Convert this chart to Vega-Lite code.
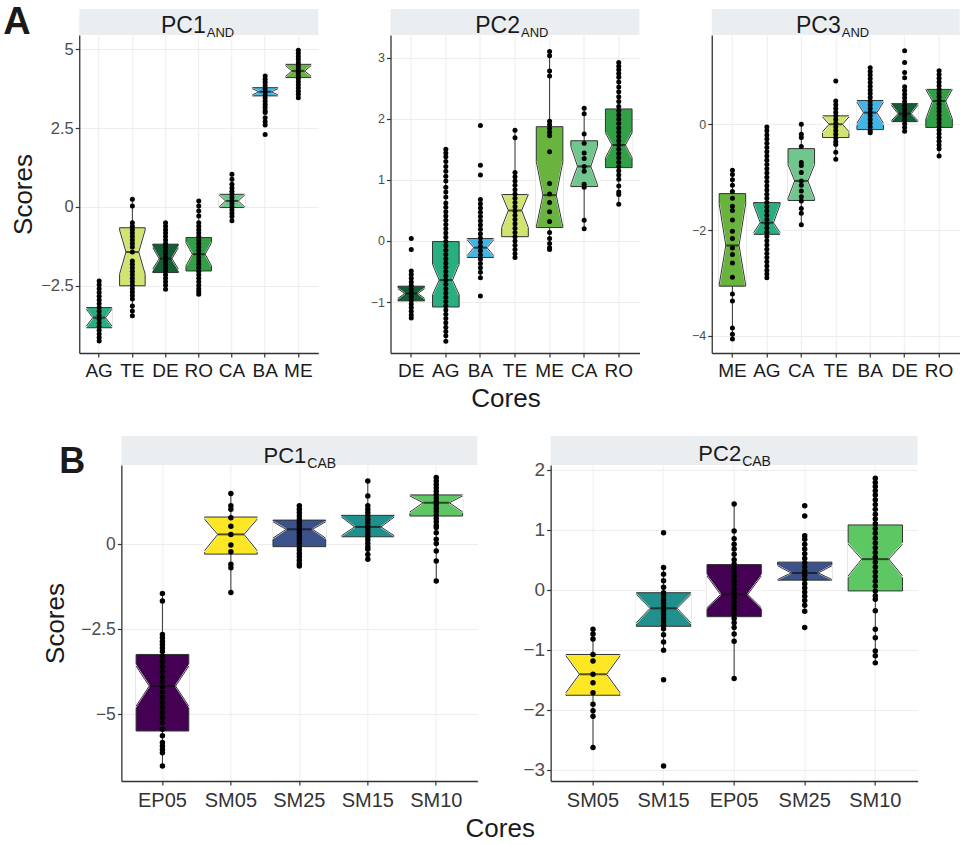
{
"$schema":"https://vega.github.io/schema/vega-lite/v6.json",
"padding":{"left":3,"top":4,"right":0,"bottom":0},
"background":"white",
"config":{"font":"Liberation Sans","view":{"stroke":null},
"axis":{"domainColor":"#333","domainWidth":1.3,"tickColor":"#333","tickSize":4,"tickWidth":1.2,"gridColor":"#ededed","gridWidth":1,"labelFont":"Liberation Sans","titleFont":"Liberation Sans","titleFontWeight":"normal","titleColor":"#1a1a1a","labelColor":"#4d4d4d"},
"axisX":{"labelAngle":0},"title":{"font":"Liberation Sans"}},
"datasets":{
"notch":[{"k":"nhi","o":1,"l":"L","r":"R"},{"k":"med","o":2,"l":"nL","r":"nR"},{"k":"nlo","o":3,"l":"L","r":"R"}],
"s1":[
{"c":"AG","q1":-3.83,"nlo":-3.78,"med":-3.51,"nhi":-3.24,"q3":-3.19,"wlo":-4.25,"whi":-2.35},
{"c":"TE","q1":-2.50,"nlo":-2.13,"med":-1.43,"nhi":-0.73,"q3":-0.66,"wlo":-3.45,"whi":0.24},
{"c":"DE","q1":-2.08,"nlo":-1.97,"med":-1.64,"nhi":-1.29,"q3":-1.18,"wlo":-2.61,"whi":-0.50},
{"c":"RO","q1":-2.03,"nlo":-1.87,"med":-1.50,"nhi":-1.13,"q3":-0.97,"wlo":-2.77,"whi":0.19},
{"c":"CA","q1":-0.02,"nlo":0.0,"med":0.19,"nhi":0.38,"q3":0.40,"wlo":-0.44,"whi":1.04},
{"c":"BA","q1":3.52,"nlo":3.55,"med":3.65,"nhi":3.75,"q3":3.78,"wlo":2.99,"whi":4.15},
{"c":"ME","q1":4.10,"nlo":4.14,"med":4.31,"nhi":4.48,"q3":4.52,"wlo":3.57,"whi":4.97}],
"s2":[
{"c":"DE","q1":-0.98,"nlo":-0.94,"med":-0.86,"nhi":-0.78,"q3":-0.74,"wlo":-1.26,"whi":-0.49},
{"c":"AG","q1":-1.08,"nlo":-0.88,"med":-0.64,"nhi":-0.38,"q3":-0.01,"wlo":-1.64,"whi":1.50},
{"c":"BA","q1":-0.27,"nlo":-0.24,"med":-0.11,"nhi":0.02,"q3":0.04,"wlo":-0.60,"whi":0.68},
{"c":"TE","q1":0.07,"nlo":0.22,"med":0.50,"nhi":0.76,"q3":0.76,"wlo":-0.27,"whi":1.81},
{"c":"ME","q1":0.22,"nlo":0.23,"med":0.75,"nhi":1.30,"q3":1.87,"wlo":-0.14,"whi":3.10},
{"c":"CA","q1":0.89,"nlo":0.92,"med":1.22,"nhi":1.55,"q3":1.64,"wlo":0.20,"whi":2.17},
{"c":"RO","q1":1.20,"nlo":1.36,"med":1.57,"nhi":1.77,"q3":2.16,"wlo":0.60,"whi":2.92}],
"s3":[
{"c":"ME","q1":-3.06,"nlo":-3.04,"med":-2.29,"nhi":-1.50,"q3":-1.31,"wlo":-4.06,"whi":-0.87},
{"c":"AG","q1":-2.08,"nlo":-2.05,"med":-1.86,"nhi":-1.52,"q3":-1.48,"wlo":-2.90,"whi":-0.05},
{"c":"CA","q1":-1.44,"nlo":-1.40,"med":-1.07,"nhi":-0.76,"q3":-0.46,"wlo":-1.90,"whi":0.0},
{"c":"TE","q1":-0.25,"nlo":-0.14,"med":0.0,"nhi":0.14,"q3":0.16,"wlo":-0.66,"whi":0.44},
{"c":"BA","q1":-0.10,"nlo":0.02,"med":0.22,"nhi":0.42,"q3":0.45,"wlo":-0.16,"whi":1.07},
{"c":"DE","q1":0.05,"nlo":0.07,"med":0.20,"nhi":0.36,"q3":0.39,"wlo":-0.13,"whi":0.71},
{"c":"RO","q1":-0.06,"nlo":0.10,"med":0.44,"nhi":0.66,"q3":0.66,"wlo":-0.60,"whi":1.01}],
"s4":[
{"c":"EP05","q1":-5.49,"nlo":-4.76,"med":-4.17,"nhi":-3.58,"q3":-3.24,"wlo":-6.52,"whi":-1.45},
{"c":"SM05","q1":-0.29,"nlo":-0.19,"med":0.29,"nhi":0.74,"q3":0.80,"wlo":-1.42,"whi":1.49},
{"c":"SM25","q1":-0.07,"nlo":0.18,"med":0.44,"nhi":0.66,"q3":0.71,"wlo":-0.64,"whi":1.13},
{"c":"SM15","q1":0.22,"nlo":0.25,"med":0.51,"nhi":0.80,"q3":0.85,"wlo":-0.44,"whi":1.86},
{"c":"SM10","q1":0.83,"nlo":0.95,"med":1.22,"nhi":1.42,"q3":1.45,"wlo":-1.08,"whi":1.96}],
"s5":[
{"c":"SM05","q1":-1.76,"nlo":-1.72,"med":-1.41,"nhi":-1.10,"q3":-1.08,"wlo":-2.63,"whi":-0.66},
{"c":"SM15","q1":-0.61,"nlo":-0.55,"med":-0.31,"nhi":-0.08,"q3":-0.05,"wlo":-1.01,"whi":0.37},
{"c":"EP05","q1":-0.45,"nlo":-0.30,"med":-0.08,"nhi":0.23,"q3":0.42,"wlo":-1.48,"whi":1.43},
{"c":"SM25","q1":0.16,"nlo":0.17,"med":0.28,"nhi":0.40,"q3":0.46,"wlo":-0.36,"whi":0.90},
{"c":"SM10","q1":-0.02,"nlo":0.23,"med":0.51,"nhi":0.76,"q3":1.08,"wlo":-1.22,"whi":1.86}],
"p1":[
{"c":"AG","v":-2.35},{"c":"AG","v":-2.47},{"c":"AG","v":-2.59},{"c":"AG","v":-2.71},{"c":"AG","v":-2.83},{"c":"AG","v":-2.95},{"c":"AG","v":-3.07},{"c":"AG","v":-3.19},{"c":"AG","v":-3.31},{"c":"AG","v":-3.43},{"c":"AG","v":-3.55},{"c":"AG","v":-3.67},{"c":"AG","v":-3.79},{"c":"AG","v":-3.91},{"c":"AG","v":-4.03},{"c":"AG","v":-4.14},{"c":"AG","v":-4.25},
{"c":"TE","v":0.24},{"c":"TE","v":0.03},{"c":"TE","v":-0.5},{"c":"TE","v":-0.61},{"c":"TE","v":-0.72},{"c":"TE","v":-0.83},{"c":"TE","v":-0.94},{"c":"TE","v":-1.05},{"c":"TE","v":-1.16},{"c":"TE","v":-1.27},{"c":"TE","v":-1.43},{"c":"TE","v":-1.71},{"c":"TE","v":-1.82},{"c":"TE","v":-1.93},{"c":"TE","v":-2.04},{"c":"TE","v":-2.15},{"c":"TE","v":-2.26},{"c":"TE","v":-2.37},{"c":"TE","v":-2.48},{"c":"TE","v":-2.59},{"c":"TE","v":-2.7},{"c":"TE","v":-2.81},{"c":"TE","v":-2.92},{"c":"TE","v":-3.14},{"c":"TE","v":-3.3},{"c":"TE","v":-3.45},
{"c":"DE","v":-0.5},{"c":"DE","v":-0.61},{"c":"DE","v":-0.72},{"c":"DE","v":-0.83},{"c":"DE","v":-0.94},{"c":"DE","v":-1.05},{"c":"DE","v":-1.16},{"c":"DE","v":-1.27},{"c":"DE","v":-1.38},{"c":"DE","v":-1.49},{"c":"DE","v":-1.6},{"c":"DE","v":-1.71},{"c":"DE","v":-1.82},{"c":"DE","v":-1.93},{"c":"DE","v":-2.04},{"c":"DE","v":-2.15},{"c":"DE","v":-2.26},{"c":"DE","v":-2.37},{"c":"DE","v":-2.48},{"c":"DE","v":-2.61},
{"c":"RO","v":0.19},{"c":"RO","v":0.03},{"c":"RO","v":-0.13},{"c":"RO","v":-0.29},{"c":"RO","v":-0.5},{"c":"RO","v":-0.61},{"c":"RO","v":-0.72},{"c":"RO","v":-0.83},{"c":"RO","v":-0.94},{"c":"RO","v":-1.05},{"c":"RO","v":-1.16},{"c":"RO","v":-1.27},{"c":"RO","v":-1.38},{"c":"RO","v":-1.49},{"c":"RO","v":-1.6},{"c":"RO","v":-1.71},{"c":"RO","v":-1.82},{"c":"RO","v":-1.93},{"c":"RO","v":-2.04},{"c":"RO","v":-2.15},{"c":"RO","v":-2.26},{"c":"RO","v":-2.37},{"c":"RO","v":-2.48},{"c":"RO","v":-2.59},{"c":"RO","v":-2.68},{"c":"RO","v":-2.77},
{"c":"CA","v":1.04},{"c":"CA","v":0.88},{"c":"CA","v":0.72},{"c":"CA","v":0.6},{"c":"CA","v":0.5},{"c":"CA","v":0.4},{"c":"CA","v":0.3},{"c":"CA","v":0.2},{"c":"CA","v":0.1},{"c":"CA","v":0.0},{"c":"CA","v":-0.1},{"c":"CA","v":-0.2},{"c":"CA","v":-0.3},{"c":"CA","v":-0.44},
{"c":"BA","v":4.15},{"c":"BA","v":4.05},{"c":"BA","v":3.95},{"c":"BA","v":3.85},{"c":"BA","v":3.75},{"c":"BA","v":3.65},{"c":"BA","v":3.55},{"c":"BA","v":3.45},{"c":"BA","v":3.35},{"c":"BA","v":3.25},{"c":"BA","v":3.15},{"c":"BA","v":3.05},{"c":"BA","v":2.99},{"c":"BA","v":2.83},{"c":"BA","v":2.7},{"c":"BA","v":2.6},{"c":"BA","v":2.3},
{"c":"ME","v":4.97},{"c":"ME","v":4.87},{"c":"ME","v":4.77},{"c":"ME","v":4.67},{"c":"ME","v":4.57},{"c":"ME","v":4.47},{"c":"ME","v":4.37},{"c":"ME","v":4.27},{"c":"ME","v":4.17},{"c":"ME","v":4.07},{"c":"ME","v":3.97},{"c":"ME","v":3.87},{"c":"ME","v":3.77},{"c":"ME","v":3.67},{"c":"ME","v":3.57},{"c":"ME","v":3.46}],
"p2":[
{"c":"DE","v":0.04},{"c":"DE","v":-0.14},{"c":"DE","v":-0.49},{"c":"DE","v":-0.55},{"c":"DE","v":-0.61},{"c":"DE","v":-0.67},{"c":"DE","v":-0.73},{"c":"DE","v":-0.79},{"c":"DE","v":-0.85},{"c":"DE","v":-0.91},{"c":"DE","v":-0.97},{"c":"DE","v":-1.03},{"c":"DE","v":-1.09},{"c":"DE","v":-1.15},{"c":"DE","v":-1.21},{"c":"DE","v":-1.26},
{"c":"AG","v":1.5},{"c":"AG","v":1.44},{"c":"AG","v":1.38},{"c":"AG","v":1.3},{"c":"AG","v":1.22},{"c":"AG","v":1.14},{"c":"AG","v":1.06},{"c":"AG","v":0.98},{"c":"AG","v":0.88},{"c":"AG","v":0.8},{"c":"AG","v":0.72},{"c":"AG","v":0.62},{"c":"AG","v":0.55},{"c":"AG","v":0.48},{"c":"AG","v":0.41},{"c":"AG","v":0.34},{"c":"AG","v":0.27},{"c":"AG","v":0.2},{"c":"AG","v":0.13},{"c":"AG","v":0.06},{"c":"AG","v":-0.01},{"c":"AG","v":-0.08},{"c":"AG","v":-0.15},{"c":"AG","v":-0.22},{"c":"AG","v":-0.29},{"c":"AG","v":-0.36},{"c":"AG","v":-0.43},{"c":"AG","v":-0.5},{"c":"AG","v":-0.57},{"c":"AG","v":-0.64},{"c":"AG","v":-0.71},{"c":"AG","v":-0.78},{"c":"AG","v":-0.85},{"c":"AG","v":-0.92},{"c":"AG","v":-0.99},{"c":"AG","v":-1.06},{"c":"AG","v":-1.13},{"c":"AG","v":-1.2},{"c":"AG","v":-1.27},{"c":"AG","v":-1.34},{"c":"AG","v":-1.41},{"c":"AG","v":-1.48},{"c":"AG","v":-1.55},{"c":"AG","v":-1.64},
{"c":"BA","v":1.89},{"c":"BA","v":1.24},{"c":"BA","v":1.08},{"c":"BA","v":0.68},{"c":"BA","v":0.61},{"c":"BA","v":0.54},{"c":"BA","v":0.47},{"c":"BA","v":0.4},{"c":"BA","v":0.33},{"c":"BA","v":0.26},{"c":"BA","v":0.19},{"c":"BA","v":0.12},{"c":"BA","v":0.05},{"c":"BA","v":-0.02},{"c":"BA","v":-0.09},{"c":"BA","v":-0.16},{"c":"BA","v":-0.23},{"c":"BA","v":-0.3},{"c":"BA","v":-0.37},{"c":"BA","v":-0.44},{"c":"BA","v":-0.51},{"c":"BA","v":-0.6},{"c":"BA","v":-0.9},
{"c":"TE","v":1.81},{"c":"TE","v":1.69},{"c":"TE","v":1.12},{"c":"TE","v":1.05},{"c":"TE","v":0.98},{"c":"TE","v":0.91},{"c":"TE","v":0.84},{"c":"TE","v":0.77},{"c":"TE","v":0.7},{"c":"TE","v":0.63},{"c":"TE","v":0.56},{"c":"TE","v":0.49},{"c":"TE","v":0.42},{"c":"TE","v":0.35},{"c":"TE","v":0.28},{"c":"TE","v":0.21},{"c":"TE","v":0.14},{"c":"TE","v":0.07},{"c":"TE","v":0.0},{"c":"TE","v":-0.07},{"c":"TE","v":-0.14},{"c":"TE","v":-0.21},{"c":"TE","v":-0.27},
{"c":"ME","v":3.1},{"c":"ME","v":3.03},{"c":"ME","v":2.78},{"c":"ME","v":2.7},{"c":"ME","v":1.96},{"c":"ME","v":1.9},{"c":"ME","v":1.84},{"c":"ME","v":1.78},{"c":"ME","v":1.72},{"c":"ME","v":1.46},{"c":"ME","v":0.94},{"c":"ME","v":0.77},{"c":"ME","v":0.63},{"c":"ME","v":0.48},{"c":"ME","v":0.32},{"c":"ME","v":0.14},{"c":"ME","v":0.04},{"c":"ME","v":-0.04},{"c":"ME","v":-0.11},{"c":"ME","v":-0.14},
{"c":"CA","v":2.17},{"c":"CA","v":2.08},{"c":"CA","v":1.75},{"c":"CA","v":1.6},{"c":"CA","v":1.44},{"c":"CA","v":1.35},{"c":"CA","v":1.22},{"c":"CA","v":1.14},{"c":"CA","v":0.93},{"c":"CA","v":0.88},{"c":"CA","v":0.34},{"c":"CA","v":0.2},
{"c":"RO","v":2.92},{"c":"RO","v":2.86},{"c":"RO","v":2.8},{"c":"RO","v":2.74},{"c":"RO","v":2.68},{"c":"RO","v":2.6},{"c":"RO","v":2.52},{"c":"RO","v":2.44},{"c":"RO","v":2.36},{"c":"RO","v":2.28},{"c":"RO","v":2.2},{"c":"RO","v":2.13},{"c":"RO","v":2.06},{"c":"RO","v":1.99},{"c":"RO","v":1.92},{"c":"RO","v":1.85},{"c":"RO","v":1.78},{"c":"RO","v":1.71},{"c":"RO","v":1.64},{"c":"RO","v":1.57},{"c":"RO","v":1.5},{"c":"RO","v":1.43},{"c":"RO","v":1.36},{"c":"RO","v":1.29},{"c":"RO","v":1.22},{"c":"RO","v":1.15},{"c":"RO","v":1.08},{"c":"RO","v":1.01},{"c":"RO","v":0.9},{"c":"RO","v":0.8},{"c":"RO","v":0.76},{"c":"RO","v":0.6}],
"p3":[
{"c":"ME","v":-0.87},{"c":"ME","v":-0.95},{"c":"ME","v":-1.05},{"c":"ME","v":-1.15},{"c":"ME","v":-1.27},{"c":"ME","v":-1.4},{"c":"ME","v":-1.55},{"c":"ME","v":-1.63},{"c":"ME","v":-1.81},{"c":"ME","v":-2.02},{"c":"ME","v":-2.16},{"c":"ME","v":-2.34},{"c":"ME","v":-2.46},{"c":"ME","v":-2.62},{"c":"ME","v":-2.89},{"c":"ME","v":-3.21},{"c":"ME","v":-3.34},{"c":"ME","v":-3.85},{"c":"ME","v":-3.97},{"c":"ME","v":-4.06},
{"c":"AG","v":-0.05},{"c":"AG","v":-0.12},{"c":"AG","v":-0.2},{"c":"AG","v":-0.28},{"c":"AG","v":-0.36},{"c":"AG","v":-0.44},{"c":"AG","v":-0.52},{"c":"AG","v":-0.6},{"c":"AG","v":-0.68},{"c":"AG","v":-0.76},{"c":"AG","v":-0.84},{"c":"AG","v":-0.92},{"c":"AG","v":-1.0},{"c":"AG","v":-1.08},{"c":"AG","v":-1.16},{"c":"AG","v":-1.24},{"c":"AG","v":-1.32},{"c":"AG","v":-1.4},{"c":"AG","v":-1.48},{"c":"AG","v":-1.56},{"c":"AG","v":-1.64},{"c":"AG","v":-1.72},{"c":"AG","v":-1.8},{"c":"AG","v":-1.88},{"c":"AG","v":-1.96},{"c":"AG","v":-2.04},{"c":"AG","v":-2.12},{"c":"AG","v":-2.2},{"c":"AG","v":-2.28},{"c":"AG","v":-2.36},{"c":"AG","v":-2.44},{"c":"AG","v":-2.52},{"c":"AG","v":-2.6},{"c":"AG","v":-2.68},{"c":"AG","v":-2.76},{"c":"AG","v":-2.83},{"c":"AG","v":-2.9},
{"c":"CA","v":0.0},{"c":"CA","v":-0.19},{"c":"CA","v":-0.25},{"c":"CA","v":-0.42},{"c":"CA","v":-0.72},{"c":"CA","v":-0.78},{"c":"CA","v":-0.91},{"c":"CA","v":-1.07},{"c":"CA","v":-1.15},{"c":"CA","v":-1.26},{"c":"CA","v":-1.37},{"c":"CA","v":-1.45},{"c":"CA","v":-1.59},{"c":"CA","v":-1.68},{"c":"CA","v":-1.9},
{"c":"TE","v":0.82},{"c":"TE","v":0.44},{"c":"TE","v":0.37},{"c":"TE","v":0.3},{"c":"TE","v":0.23},{"c":"TE","v":0.16},{"c":"TE","v":0.09},{"c":"TE","v":0.02},{"c":"TE","v":-0.05},{"c":"TE","v":-0.12},{"c":"TE","v":-0.19},{"c":"TE","v":-0.26},{"c":"TE","v":-0.33},{"c":"TE","v":-0.38},{"c":"TE","v":-0.53},{"c":"TE","v":-0.66},
{"c":"BA","v":1.07},{"c":"BA","v":1.0},{"c":"BA","v":0.93},{"c":"BA","v":0.86},{"c":"BA","v":0.79},{"c":"BA","v":0.72},{"c":"BA","v":0.65},{"c":"BA","v":0.58},{"c":"BA","v":0.51},{"c":"BA","v":0.44},{"c":"BA","v":0.37},{"c":"BA","v":0.3},{"c":"BA","v":0.23},{"c":"BA","v":0.16},{"c":"BA","v":0.09},{"c":"BA","v":0.02},{"c":"BA","v":-0.05},{"c":"BA","v":-0.12},{"c":"BA","v":-0.16},
{"c":"DE","v":1.39},{"c":"DE","v":1.17},{"c":"DE","v":0.98},{"c":"DE","v":0.88},{"c":"DE","v":0.71},{"c":"DE","v":0.64},{"c":"DE","v":0.57},{"c":"DE","v":0.5},{"c":"DE","v":0.43},{"c":"DE","v":0.36},{"c":"DE","v":0.29},{"c":"DE","v":0.22},{"c":"DE","v":0.15},{"c":"DE","v":0.08},{"c":"DE","v":0.01},{"c":"DE","v":-0.06},{"c":"DE","v":-0.13},
{"c":"RO","v":1.01},{"c":"RO","v":0.94},{"c":"RO","v":0.87},{"c":"RO","v":0.8},{"c":"RO","v":0.73},{"c":"RO","v":0.66},{"c":"RO","v":0.59},{"c":"RO","v":0.52},{"c":"RO","v":0.45},{"c":"RO","v":0.38},{"c":"RO","v":0.31},{"c":"RO","v":0.24},{"c":"RO","v":0.17},{"c":"RO","v":0.1},{"c":"RO","v":0.03},{"c":"RO","v":-0.04},{"c":"RO","v":-0.11},{"c":"RO","v":-0.18},{"c":"RO","v":-0.25},{"c":"RO","v":-0.32},{"c":"RO","v":-0.39},{"c":"RO","v":-0.46},{"c":"RO","v":-0.6}],
"p4":[
{"c":"EP05","v":-1.45},{"c":"EP05","v":-1.67},{"c":"EP05","v":-2.65},{"c":"EP05","v":-2.75},{"c":"EP05","v":-2.85},{"c":"EP05","v":-2.95},{"c":"EP05","v":-3.05},{"c":"EP05","v":-3.15},{"c":"EP05","v":-3.3},{"c":"EP05","v":-3.45},{"c":"EP05","v":-3.6},{"c":"EP05","v":-3.75},{"c":"EP05","v":-3.9},{"c":"EP05","v":-4.05},{"c":"EP05","v":-4.2},{"c":"EP05","v":-4.35},{"c":"EP05","v":-4.5},{"c":"EP05","v":-4.65},{"c":"EP05","v":-4.8},{"c":"EP05","v":-4.95},{"c":"EP05","v":-5.1},{"c":"EP05","v":-5.25},{"c":"EP05","v":-5.44},{"c":"EP05","v":-5.63},{"c":"EP05","v":-5.83},{"c":"EP05","v":-5.93},{"c":"EP05","v":-6.03},{"c":"EP05","v":-6.13},{"c":"EP05","v":-6.52},
{"c":"SM05","v":1.49},{"c":"SM05","v":1.13},{"c":"SM05","v":1.03},{"c":"SM05","v":0.78},{"c":"SM05","v":0.53},{"c":"SM05","v":0.29},{"c":"SM05","v":-0.02},{"c":"SM05","v":-0.22},{"c":"SM05","v":-0.59},{"c":"SM05","v":-0.69},{"c":"SM05","v":-1.42},
{"c":"SM25","v":1.13},{"c":"SM25","v":1.03},{"c":"SM25","v":0.93},{"c":"SM25","v":0.83},{"c":"SM25","v":0.73},{"c":"SM25","v":0.63},{"c":"SM25","v":0.53},{"c":"SM25","v":0.43},{"c":"SM25","v":0.33},{"c":"SM25","v":0.23},{"c":"SM25","v":0.13},{"c":"SM25","v":0.03},{"c":"SM25","v":-0.07},{"c":"SM25","v":-0.17},{"c":"SM25","v":-0.27},{"c":"SM25","v":-0.37},{"c":"SM25","v":-0.47},{"c":"SM25","v":-0.57},{"c":"SM25","v":-0.64},
{"c":"SM15","v":1.86},{"c":"SM15","v":1.42},{"c":"SM15","v":1.13},{"c":"SM15","v":1.03},{"c":"SM15","v":0.93},{"c":"SM15","v":0.83},{"c":"SM15","v":0.73},{"c":"SM15","v":0.63},{"c":"SM15","v":0.53},{"c":"SM15","v":0.43},{"c":"SM15","v":0.33},{"c":"SM15","v":0.23},{"c":"SM15","v":0.13},{"c":"SM15","v":0.03},{"c":"SM15","v":-0.07},{"c":"SM15","v":-0.15},{"c":"SM15","v":-0.3},{"c":"SM15","v":-0.44},
{"c":"SM10","v":1.96},{"c":"SM10","v":1.86},{"c":"SM10","v":1.76},{"c":"SM10","v":1.66},{"c":"SM10","v":1.56},{"c":"SM10","v":1.46},{"c":"SM10","v":1.36},{"c":"SM10","v":1.26},{"c":"SM10","v":1.16},{"c":"SM10","v":1.06},{"c":"SM10","v":0.96},{"c":"SM10","v":0.86},{"c":"SM10","v":0.76},{"c":"SM10","v":0.66},{"c":"SM10","v":0.56},{"c":"SM10","v":0.49},{"c":"SM10","v":0.34},{"c":"SM10","v":0.15},{"c":"SM10","v":0.02},{"c":"SM10","v":-0.2},{"c":"SM10","v":-0.49},{"c":"SM10","v":-1.08}],
"p5":[
{"c":"SM05","v":-0.66},{"c":"SM05","v":-0.74},{"c":"SM05","v":-0.82},{"c":"SM05","v":-1.08},{"c":"SM05","v":-1.19},{"c":"SM05","v":-1.41},{"c":"SM05","v":-1.55},{"c":"SM05","v":-1.72},{"c":"SM05","v":-1.91},{"c":"SM05","v":-2.02},{"c":"SM05","v":-2.11},{"c":"SM05","v":-2.63},
{"c":"SM15","v":0.95},{"c":"SM15","v":0.37},{"c":"SM15","v":0.26},{"c":"SM15","v":0.15},{"c":"SM15","v":0.04},{"c":"SM15","v":-0.05},{"c":"SM15","v":-0.11},{"c":"SM15","v":-0.17},{"c":"SM15","v":-0.23},{"c":"SM15","v":-0.29},{"c":"SM15","v":-0.35},{"c":"SM15","v":-0.41},{"c":"SM15","v":-0.47},{"c":"SM15","v":-0.53},{"c":"SM15","v":-0.59},{"c":"SM15","v":-0.65},{"c":"SM15","v":-0.75},{"c":"SM15","v":-0.87},{"c":"SM15","v":-1.01},{"c":"SM15","v":-1.5},{"c":"SM15","v":-2.94},
{"c":"EP05","v":1.43},{"c":"EP05","v":0.98},{"c":"EP05","v":0.85},{"c":"EP05","v":0.76},{"c":"EP05","v":0.68},{"c":"EP05","v":0.59},{"c":"EP05","v":0.5},{"c":"EP05","v":0.43},{"c":"EP05","v":0.36},{"c":"EP05","v":0.29},{"c":"EP05","v":0.22},{"c":"EP05","v":0.15},{"c":"EP05","v":0.08},{"c":"EP05","v":0.01},{"c":"EP05","v":-0.06},{"c":"EP05","v":-0.13},{"c":"EP05","v":-0.2},{"c":"EP05","v":-0.27},{"c":"EP05","v":-0.34},{"c":"EP05","v":-0.41},{"c":"EP05","v":-0.48},{"c":"EP05","v":-0.55},{"c":"EP05","v":-0.63},{"c":"EP05","v":-0.74},{"c":"EP05","v":-0.86},{"c":"EP05","v":-1.48},
{"c":"SM25","v":1.4},{"c":"SM25","v":1.23},{"c":"SM25","v":0.9},{"c":"SM25","v":0.84},{"c":"SM25","v":0.76},{"c":"SM25","v":0.68},{"c":"SM25","v":0.6},{"c":"SM25","v":0.52},{"c":"SM25","v":0.45},{"c":"SM25","v":0.38},{"c":"SM25","v":0.31},{"c":"SM25","v":0.24},{"c":"SM25","v":0.17},{"c":"SM25","v":0.1},{"c":"SM25","v":0.03},{"c":"SM25","v":-0.04},{"c":"SM25","v":-0.11},{"c":"SM25","v":-0.18},{"c":"SM25","v":-0.26},{"c":"SM25","v":-0.36},{"c":"SM25","v":-0.63},
{"c":"SM10","v":1.86},{"c":"SM10","v":1.79},{"c":"SM10","v":1.72},{"c":"SM10","v":1.65},{"c":"SM10","v":1.58},{"c":"SM10","v":1.5},{"c":"SM10","v":1.42},{"c":"SM10","v":1.34},{"c":"SM10","v":1.26},{"c":"SM10","v":1.18},{"c":"SM10","v":1.1},{"c":"SM10","v":1.02},{"c":"SM10","v":0.94},{"c":"SM10","v":0.86},{"c":"SM10","v":0.78},{"c":"SM10","v":0.7},{"c":"SM10","v":0.62},{"c":"SM10","v":0.54},{"c":"SM10","v":0.46},{"c":"SM10","v":0.38},{"c":"SM10","v":0.3},{"c":"SM10","v":0.22},{"c":"SM10","v":0.14},{"c":"SM10","v":0.06},{"c":"SM10","v":-0.02},{"c":"SM10","v":-0.1},{"c":"SM10","v":-0.16},{"c":"SM10","v":-0.35},{"c":"SM10","v":-0.66},{"c":"SM10","v":-0.8},{"c":"SM10","v":-1.02},{"c":"SM10","v":-1.1},{"c":"SM10","v":-1.22}]
},
"vconcat":[
{
"hconcat":[
{"vconcat":[
 {"width":239,"height":26,"view":{"fill":"#ebeef1","stroke":null},"data":{"values":[{"a":"PC1","b":"AND","t":"A"}]},
  "layer":[
   {"mark":{"type":"text","align":"right","baseline":"alphabetic","dx":7,"dy":10.5,"fontSize":23,"color":"#1a1a1a"},"encoding":{"text":{"field":"a"}}},
   {"mark":{"type":"text","align":"left","baseline":"alphabetic","dx":8,"dy":15,"fontSize":13,"color":"#1a1a1a"},"encoding":{"text":{"field":"b"}}},
   {"mark":{"type":"text","align":"left","baseline":"alphabetic","dx":-195.5,"dy":12,"fontSize":38,"fontWeight":"bold","color":"#1a1a1a"},"encoding":{"text":{"field":"t"}}}
  ]},
 {"width":239,"height":318,
  "encoding":{
   "x":{"field":"c","type":"nominal","title":null,"scale":{"domain":["AG","TE","DE","RO","CA","BA","ME"],"paddingInner":0.23,"paddingOuter":0.215},"axis":{"labelFontSize":19,"labelColor":"#1a1a1a","labelPadding":4,"grid":true}},
   "y":{"field":"v","type":"quantitative","title":"Scores","scale":{"domain":[-4.63,5.45],"nice":false,"zero":false},"axis":{"values":[-2.5,0,2.5,5],"format":".1~f","labelFontSize":16.5,"titleFontSize":26,"titlePadding":4,"labelPadding":2}}
  },
  "layer":[
   {"data":{"name":"s1"},"mark":{"type":"rule","color":"#333","strokeWidth":1},
    "encoding":{"y":{"field":"wlo","type":"quantitative","title":"Scores","scale":{"domain":[-4.63,5.45],"nice":false,"zero":false},"axis":{"values":[-2.5,0,2.5,5],"format":".1~f","labelFontSize":16.5,"titleFontSize":26,"titlePadding":4,"labelPadding":2}},"y2":{"field":"whi"}}},
   {"data":{"name":"s1"},"mark":{"type":"bar","stroke":"#333","strokeWidth":1,"width":25.56},
    "encoding":{"y":{"field":"q1","type":"quantitative","title":"Scores","scale":{"domain":[-4.63,5.45],"nice":false,"zero":false},"axis":{"values":[-2.5,0,2.5,5],"format":".1~f","labelFontSize":16.5,"titleFontSize":26,"titlePadding":4,"labelPadding":2}},"y2":{"field":"q3"},
     "color":{"field":"c","type":"nominal","scale":{"domain":["AG","TE","DE","RO","CA","BA","ME"],"range":["#29af7f","#d2e36f","#135e34","#31a046","#70c68c","#41b6e6","#68b43e"]},"legend":null}}},
   {"data":{"name":"s1"},
    "transform":[{"fold":["nhi","med","nlo"],"as":["k","v"]},{"lookup":"k","from":{"data":{"name":"notch"},"key":"k","fields":["o","l","r"]}},{"fold":["l","r"],"as":["sk","side"]}],
    "encoding":{"xOffset":{"field":"side","type":"nominal","scale":{"type":"point","domain":["L","a","nL","b","c","d","nR","e","R"],"padding":0,"range":[0,25.56]}},"detail":[{"field":"c","type":"nominal"},{"field":"sk","type":"nominal"}],"order":{"field":"o","type":"quantitative"}},
    "layer":[
     {"mark":{"type":"line","interpolate":"linear-closed","fill":"white","stroke":"white","strokeWidth":1.6}},
     {"mark":{"type":"line","stroke":"#333","strokeWidth":1}}
    ]},
   {"data":{"name":"s1"},"mark":{"type":"tick","color":"#111","thickness":2,"size":12.8},
    "encoding":{"y":{"field":"med","type":"quantitative","title":"Scores","scale":{"domain":[-4.63,5.45],"nice":false,"zero":false},"axis":{"values":[-2.5,0,2.5,5],"format":".1~f","labelFontSize":16.5,"titleFontSize":26,"titlePadding":4,"labelPadding":2}}}},
   {"data":{"name":"p1"},"mark":{"type":"circle","size":25,"color":"#000","opacity":1}}
  ]}
],"spacing":0,"bounds":"flush"},
{"vconcat":[
 {"width":249,"height":26,"view":{"fill":"#ebeef1","stroke":null},"data":{"values":[{"a":"PC2","b":"AND"}]},
  "layer":[
   {"mark":{"type":"text","align":"right","baseline":"alphabetic","dx":5,"dy":10.5,"fontSize":23,"color":"#1a1a1a"},"encoding":{"text":{"field":"a"}}},
   {"mark":{"type":"text","align":"left","baseline":"alphabetic","dx":6,"dy":15,"fontSize":13,"color":"#1a1a1a"},"encoding":{"text":{"field":"b"}}}
  ]},
 {"width":249,"height":318,
  "encoding":{
   "x":{"field":"c","type":"nominal","title":null,"scale":{"domain":["DE","AG","BA","TE","ME","CA","RO"],"paddingInner":0.23,"paddingOuter":0.215},"axis":{"labelFontSize":19,"labelColor":"#1a1a1a","labelPadding":4,"grid":true}},
   "y":{"field":"v","type":"quantitative","title":null,"scale":{"domain":[-1.833,3.37],"nice":false,"zero":false},"axis":{"values":[-1,0,1,2,3],"format":".1~f","labelFontSize":12.5,"labelPadding":2}}
  },
  "layer":[
   {"data":{"name":"s2"},"mark":{"type":"rule","color":"#333","strokeWidth":1},
    "encoding":{"y":{"field":"wlo","type":"quantitative","title":null,"scale":{"domain":[-1.833,3.37],"nice":false,"zero":false},"axis":{"values":[-1,0,1,2,3],"format":".1~f","labelFontSize":12.5,"labelPadding":2}},"y2":{"field":"whi"}}},
   {"data":{"name":"s2"},"mark":{"type":"bar","stroke":"#333","strokeWidth":1,"width":26.63},
    "encoding":{"y":{"field":"q1","type":"quantitative","title":null,"scale":{"domain":[-1.833,3.37],"nice":false,"zero":false},"axis":{"values":[-1,0,1,2,3],"format":".1~f","labelFontSize":12.5,"labelPadding":2}},"y2":{"field":"q3"},
     "color":{"field":"c","type":"nominal","scale":{"domain":["AG","TE","DE","RO","CA","BA","ME"],"range":["#29af7f","#d2e36f","#135e34","#31a046","#70c68c","#41b6e6","#68b43e"]},"legend":null}}},
   {"data":{"name":"s2"},
    "transform":[{"fold":["nhi","med","nlo"],"as":["k","v"]},{"lookup":"k","from":{"data":{"name":"notch"},"key":"k","fields":["o","l","r"]}},{"fold":["l","r"],"as":["sk","side"]}],
    "encoding":{"xOffset":{"field":"side","type":"nominal","scale":{"type":"point","domain":["L","a","nL","b","c","d","nR","e","R"],"padding":0,"range":[0,26.63]}},"detail":[{"field":"c","type":"nominal"},{"field":"sk","type":"nominal"}],"order":{"field":"o","type":"quantitative"}},
    "layer":[
     {"mark":{"type":"line","interpolate":"linear-closed","fill":"white","stroke":"white","strokeWidth":1.6}},
     {"mark":{"type":"line","stroke":"#333","strokeWidth":1}}
    ]},
   {"data":{"name":"s2"},"mark":{"type":"tick","color":"#111","thickness":2,"size":13.3},
    "encoding":{"y":{"field":"med","type":"quantitative","title":null,"scale":{"domain":[-1.833,3.37],"nice":false,"zero":false},"axis":{"values":[-1,0,1,2,3],"format":".1~f","labelFontSize":12.5,"labelPadding":2}}}},
   {"data":{"name":"p2"},"mark":{"type":"circle","size":25,"color":"#000","opacity":1}}
  ]}
],"spacing":0,"bounds":"flush"},
{"vconcat":[
 {"width":248,"height":26,"view":{"fill":"#ebeef1","stroke":null},"data":{"values":[{"a":"PC3","b":"AND"}]},
  "layer":[
   {"mark":{"type":"text","align":"right","baseline":"alphabetic","dx":5,"dy":10.5,"fontSize":23,"color":"#1a1a1a"},"encoding":{"text":{"field":"a"}}},
   {"mark":{"type":"text","align":"left","baseline":"alphabetic","dx":6,"dy":15,"fontSize":13,"color":"#1a1a1a"},"encoding":{"text":{"field":"b"}}}
  ]},
 {"width":248,"height":318,
  "encoding":{
   "x":{"field":"c","type":"nominal","title":null,"scale":{"domain":["ME","AG","CA","TE","BA","DE","RO"],"paddingInner":0.23,"paddingOuter":0.215},"axis":{"labelFontSize":19,"labelColor":"#1a1a1a","labelPadding":4,"grid":true}},
   "y":{"field":"v","type":"quantitative","title":null,"scale":{"domain":[-4.323,1.688],"nice":false,"zero":false},"axis":{"values":[-4,-2,0],"format":".1~f","labelFontSize":12.5,"labelPadding":2}}
  },
  "layer":[
   {"data":{"name":"s3"},"mark":{"type":"rule","color":"#333","strokeWidth":1},
    "encoding":{"y":{"field":"wlo","type":"quantitative","title":null,"scale":{"domain":[-4.323,1.688],"nice":false,"zero":false},"axis":{"values":[-4,-2,0],"format":".1~f","labelFontSize":12.5,"labelPadding":2}},"y2":{"field":"whi"}}},
   {"data":{"name":"s3"},"mark":{"type":"bar","stroke":"#333","strokeWidth":1,"width":26.52},
    "encoding":{"y":{"field":"q1","type":"quantitative","title":null,"scale":{"domain":[-4.323,1.688],"nice":false,"zero":false},"axis":{"values":[-4,-2,0],"format":".1~f","labelFontSize":12.5,"labelPadding":2}},"y2":{"field":"q3"},
     "color":{"field":"c","type":"nominal","scale":{"domain":["AG","TE","DE","RO","CA","BA","ME"],"range":["#29af7f","#d2e36f","#135e34","#31a046","#70c68c","#41b6e6","#68b43e"]},"legend":null}}},
   {"data":{"name":"s3"},
    "transform":[{"fold":["nhi","med","nlo"],"as":["k","v"]},{"lookup":"k","from":{"data":{"name":"notch"},"key":"k","fields":["o","l","r"]}},{"fold":["l","r"],"as":["sk","side"]}],
    "encoding":{"xOffset":{"field":"side","type":"nominal","scale":{"type":"point","domain":["L","a","nL","b","c","d","nR","e","R"],"padding":0,"range":[0,26.52]}},"detail":[{"field":"c","type":"nominal"},{"field":"sk","type":"nominal"}],"order":{"field":"o","type":"quantitative"}},
    "layer":[
     {"mark":{"type":"line","interpolate":"linear-closed","fill":"white","stroke":"white","strokeWidth":1.6}},
     {"mark":{"type":"line","stroke":"#333","strokeWidth":1}}
    ]},
   {"data":{"name":"s3"},"mark":{"type":"tick","color":"#111","thickness":2,"size":13.3},
    "encoding":{"y":{"field":"med","type":"quantitative","title":null,"scale":{"domain":[-4.323,1.688],"nice":false,"zero":false},"axis":{"values":[-4,-2,0],"format":".1~f","labelFontSize":12.5,"labelPadding":2}}}},
   {"data":{"name":"p3"},"mark":{"type":"circle","size":25,"color":"#000","opacity":1}}
  ]}
],"spacing":0,"bounds":"flush"}
],
"spacing":51.25,
"resolve":{"scale":{"color":"independent","xOffset":"independent","x":"independent","y":"independent"}},
"title":{"text":"Cores","orient":"bottom","anchor":"middle","dx":24.5,"offset":6,"fontSize":26,"fontWeight":"normal","color":"#1a1a1a"}
},
{
"hconcat":[
{"vconcat":[
 {"width":356,"height":29,"view":{"fill":"#ebeef1","stroke":null},"data":{"values":[{"a":"PC1","b":"CAB","t":"B"}]},
  "layer":[
   {"mark":{"type":"text","align":"right","baseline":"alphabetic","dx":7,"dy":12,"fontSize":22,"color":"#1a1a1a"},"encoding":{"text":{"field":"a"}}},
   {"mark":{"type":"text","align":"left","baseline":"alphabetic","dx":8,"dy":17,"fontSize":14,"color":"#1a1a1a"},"encoding":{"text":{"field":"b"}}},
   {"mark":{"type":"text","align":"left","baseline":"alphabetic","dx":-240,"dy":22.5,"fontSize":36,"fontWeight":"bold","color":"#1a1a1a"},"encoding":{"text":{"field":"t"}}}
  ]},
 {"width":356,"height":316,
  "encoding":{
   "x":{"field":"c","type":"nominal","title":null,"scale":{"domain":["EP05","SM05","SM25","SM15","SM10"],"paddingInner":0.23,"paddingOuter":0.215},"axis":{"labelFontSize":20,"labelColor":"#333","labelPadding":5,"grid":true}},
   "y":{"field":"v","type":"quantitative","title":"Scores","scale":{"domain":[-6.96,2.33],"nice":false,"zero":false},"axis":{"values":[-5,-2.5,0],"format":".1~f","labelFontSize":17.5,"titleFontSize":26,"titlePadding":12,"labelPadding":2}}
  },
  "layer":[
   {"data":{"name":"s4"},"mark":{"type":"rule","color":"#333","strokeWidth":1},
    "encoding":{"y":{"field":"wlo","type":"quantitative","title":"Scores","scale":{"domain":[-6.96,2.33],"nice":false,"zero":false},"axis":{"values":[-5,-2.5,0],"format":".1~f","labelFontSize":17.5,"titleFontSize":26,"titlePadding":12,"labelPadding":2}},"y2":{"field":"whi"}}},
   {"data":{"name":"s4"},"mark":{"type":"bar","stroke":"#333","strokeWidth":1,"width":52.71},
    "encoding":{"y":{"field":"q1","type":"quantitative","title":"Scores","scale":{"domain":[-6.96,2.33],"nice":false,"zero":false},"axis":{"values":[-5,-2.5,0],"format":".1~f","labelFontSize":17.5,"titleFontSize":26,"titlePadding":12,"labelPadding":2}},"y2":{"field":"q3"},
     "color":{"field":"c","type":"nominal","scale":{"domain":["EP05","SM05","SM25","SM15","SM10"],"range":["#440154","#fde725","#3b528b","#21908c","#5dc863"]},"legend":null}}},
   {"data":{"name":"s4"},
    "transform":[{"fold":["nhi","med","nlo"],"as":["k","v"]},{"lookup":"k","from":{"data":{"name":"notch"},"key":"k","fields":["o","l","r"]}},{"fold":["l","r"],"as":["sk","side"]}],
    "encoding":{"xOffset":{"field":"side","type":"nominal","scale":{"type":"point","domain":["L","a","nL","b","c","d","nR","e","R"],"padding":0,"range":[0,52.71]}},"detail":[{"field":"c","type":"nominal"},{"field":"sk","type":"nominal"}],"order":{"field":"o","type":"quantitative"}},
    "layer":[
     {"mark":{"type":"line","interpolate":"linear-closed","fill":"white","stroke":"white","strokeWidth":1.6}},
     {"mark":{"type":"line","stroke":"#333","strokeWidth":1}}
    ]},
   {"data":{"name":"s4"},"mark":{"type":"tick","color":"#111","thickness":2,"size":26.4},
    "encoding":{"y":{"field":"med","type":"quantitative","title":"Scores","scale":{"domain":[-6.96,2.33],"nice":false,"zero":false},"axis":{"values":[-5,-2.5,0],"format":".1~f","labelFontSize":17.5,"titleFontSize":26,"titlePadding":12,"labelPadding":2}}}},
   {"data":{"name":"p4"},"mark":{"type":"circle","size":30,"color":"#000","opacity":1}}
  ]}
],"spacing":0,"bounds":"flush"},
{"vconcat":[
 {"width":367,"height":29,"view":{"fill":"#ebeef1","stroke":null},"data":{"values":[{"a":"PC2","b":"CAB"}]},
  "layer":[
   {"mark":{"type":"text","align":"right","baseline":"alphabetic","dx":7,"dy":10.5,"fontSize":22,"color":"#1a1a1a"},"encoding":{"text":{"field":"a"}}},
   {"mark":{"type":"text","align":"left","baseline":"alphabetic","dx":8,"dy":15.5,"fontSize":14,"color":"#1a1a1a"},"encoding":{"text":{"field":"b"}}}
  ]},
 {"width":367,"height":316,
  "encoding":{
   "x":{"field":"c","type":"nominal","title":null,"scale":{"domain":["SM05","SM15","EP05","SM25","SM10"],"paddingInner":0.23,"paddingOuter":0.215},"axis":{"labelFontSize":20,"labelColor":"#333","labelPadding":5,"grid":true}},
   "y":{"field":"v","type":"quantitative","title":null,"scale":{"domain":[-3.19,2.08],"nice":false,"zero":false},"axis":{"values":[-3,-2,-1,0,1,2],"format":".1~f","labelFontSize":19,"labelPadding":2}}
  },
  "layer":[
   {"data":{"name":"s5"},"mark":{"type":"rule","color":"#333","strokeWidth":1},
    "encoding":{"y":{"field":"wlo","type":"quantitative","title":null,"scale":{"domain":[-3.19,2.08],"nice":false,"zero":false},"axis":{"values":[-3,-2,-1,0,1,2],"format":".1~f","labelFontSize":19,"labelPadding":2}},"y2":{"field":"whi"}}},
   {"data":{"name":"s5"},"mark":{"type":"bar","stroke":"#333","strokeWidth":1,"width":54.34},
    "encoding":{"y":{"field":"q1","type":"quantitative","title":null,"scale":{"domain":[-3.19,2.08],"nice":false,"zero":false},"axis":{"values":[-3,-2,-1,0,1,2],"format":".1~f","labelFontSize":19,"labelPadding":2}},"y2":{"field":"q3"},
     "color":{"field":"c","type":"nominal","scale":{"domain":["EP05","SM05","SM25","SM15","SM10"],"range":["#440154","#fde725","#3b528b","#21908c","#5dc863"]},"legend":null}}},
   {"data":{"name":"s5"},
    "transform":[{"fold":["nhi","med","nlo"],"as":["k","v"]},{"lookup":"k","from":{"data":{"name":"notch"},"key":"k","fields":["o","l","r"]}},{"fold":["l","r"],"as":["sk","side"]}],
    "encoding":{"xOffset":{"field":"side","type":"nominal","scale":{"type":"point","domain":["L","a","nL","b","c","d","nR","e","R"],"padding":0,"range":[0,54.34]}},"detail":[{"field":"c","type":"nominal"},{"field":"sk","type":"nominal"}],"order":{"field":"o","type":"quantitative"}},
    "layer":[
     {"mark":{"type":"line","interpolate":"linear-closed","fill":"white","stroke":"white","strokeWidth":1.6}},
     {"mark":{"type":"line","stroke":"#333","strokeWidth":1}}
    ]},
   {"data":{"name":"s5"},"mark":{"type":"tick","color":"#111","thickness":2,"size":27.2},
    "encoding":{"y":{"field":"med","type":"quantitative","title":null,"scale":{"domain":[-3.19,2.08],"nice":false,"zero":false},"axis":{"values":[-3,-2,-1,0,1,2],"format":".1~f","labelFontSize":19,"labelPadding":2}}}},
   {"data":{"name":"p5"},"mark":{"type":"circle","size":30,"color":"#000","opacity":1}}
  ]}
],"spacing":0,"bounds":"flush"}
],
"spacing":45.3,
"resolve":{"scale":{"color":"independent","xOffset":"independent","x":"independent","y":"independent"}},
"title":{"text":"Cores","orient":"bottom","anchor":"middle","dx":20,"offset":6,"fontSize":26,"fontWeight":"normal","color":"#1a1a1a"}
}
],
"spacing":24,"center":true,
"resolve":{"scale":{"color":"independent","xOffset":"independent","x":"independent","y":"independent"}}
}
